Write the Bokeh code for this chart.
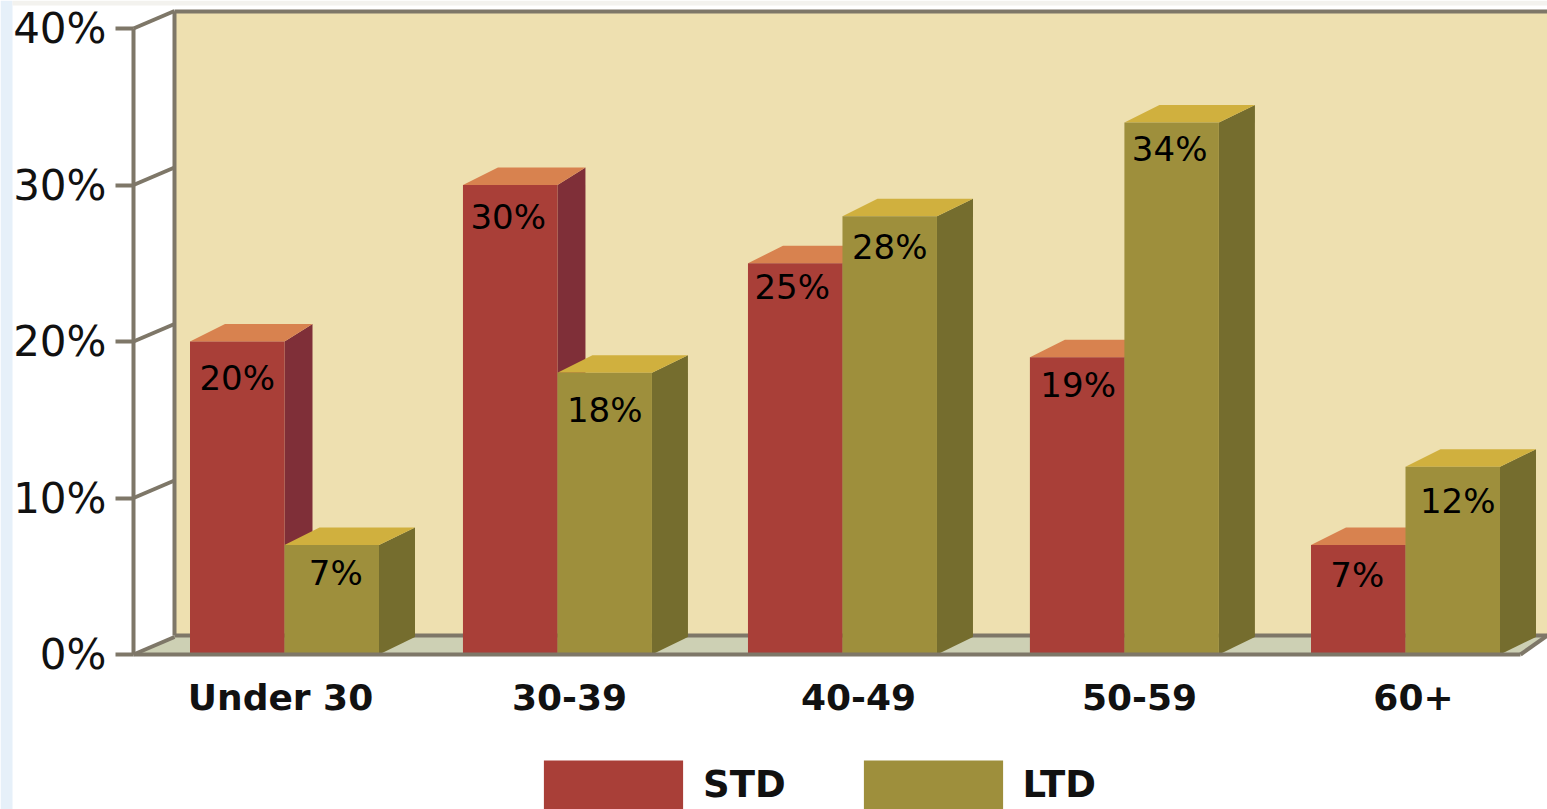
from bokeh.embed import file_html
from bokeh.resources import INLINE
from bokeh.plotting import figure
from bokeh.models import (ColumnDataSource, FixedTicker, LinearAxis, Legend, LegendItem,
                          Range1d)
from bokeh.core.properties import value

# Disability claims by age group, percent
age_groups = ["Under 30", "30-39", "40-49", "50-59", "60+"]
std_values = [20, 30, 25, 19, 7]
ltd_values = [7, 18, 28, 34, 12]
y_ticks = [0, 10, 20, 30, 40]

# Canvas geometry: pixels per unit on each scale and where the origin sits
W, H = 1547, 809
PX_PER_GROUP = 280.25
PX_PER_PCT = 15.65
ORIGIN_X, ORIGIN_Y = 284, 654


def gx(px):
    return (px - ORIGIN_X) / PX_PER_GROUP


def gy(px):
    return (ORIGIN_Y - px) / PX_PER_PCT


FONT = "DejaVu Sans"
BAR_W = 94.5 / PX_PER_GROUP
GROUP_NUDGE = [0, -0.026, -0.009, -0.003, 0]
LABEL_POS = [gx(v) for v in (280, 569, 858, 1139, 1413)]

# Placement of the percent labels relative to each bar's top centre, in pixels
STD_DROP = [36, 32, 24, 28, 30]
LTD_DROP = [28, 37, 31, 27, 34]
STD_SHIFT = [0, -2, -3, 1, -1]
LTD_SHIFT = [4, 0, 0, -2, 5]

# Depth of the extruded boxes, in scale units
DEPTH_Y = 17.5 / PX_PER_PCT
DEPTH_LEFT = 35 / PX_PER_GROUP
STD_DEPTH_RIGHT = 28 / PX_PER_GROUP
LTD_DEPTH_RIGHT = 36 / PX_PER_GROUP

AXIS = "#7e7768"

p = figure(width=W, height=H, output_backend="svg", toolbar_location=None,
           x_range=Range1d(gx(0), gx(W)), y_range=Range1d(gy(H), gy(0)),
           x_axis_type=None, y_axis_type=None,
           min_border=0, min_border_left=0, min_border_right=0, min_border_top=0,
           min_border_bottom=0, outline_line_color=None, background_fill_color="white",
           border_fill_color="white")
p.grid.visible = False

# Pale page edge
p.quad(left=gx(0), right=gx(12), bottom=gy(H), top=gy(0), fill_color="#e6f0f9", line_color=None)
p.quad(left=gx(12), right=gx(W), bottom=gy(5), top=gy(0), fill_color="#f3f2ee", line_color=None)

# Back wall and floor of the box
wall_l, wall_t, wall_b = gx(174), gy(11), gy(635)
p.quad(left=wall_l, right=gx(W), bottom=wall_b, top=wall_t, fill_color="#eee0b0", line_color=None)
p.patch([gx(133), wall_l, gx(W), gx(1520)], [0, wall_b, wall_b, 0],
        fill_color="#cdd0b4", line_color=None)
p.multi_line([[wall_l, wall_l], [wall_l, gx(W)], [wall_l, gx(W)], [gx(1520), gx(W)]],
             [[wall_b, wall_t], [wall_t, wall_t], [wall_b, wall_b], [0, wall_b]],
             line_color=AXIS, line_width=4)

# Receding tick lines on the left side wall
p.segment(x0=[gx(133)] * len(y_ticks), y0=y_ticks,
          x1=[wall_l] * len(y_ticks), y1=[t + DEPTH_Y for t in y_ticks],
          line_color=AXIS, line_width=4)

std_x = [i + n - BAR_W / 2 for i, n in enumerate(GROUP_NUDGE)]
ltd_x = [i + n + BAR_W / 2 for i, n in enumerate(GROUP_NUDGE)]


def box_faces(xc, v, right_depth):
    l, r = xc - BAR_W / 2, xc + BAR_W / 2
    top = ([l, l + DEPTH_LEFT, r + right_depth, r], [v, v + DEPTH_Y, v + DEPTH_Y, v])
    side = ([r, r + right_depth, r + right_depth, r], [0, DEPTH_Y, v + DEPTH_Y, v])
    return top, side


legend_items = []
for i in range(len(age_groups)):
    # Each group paints its red box first so the olive box overlaps it
    t, s = box_faces(std_x[i], std_values[i], STD_DEPTH_RIGHT)
    p.patch(*s, fill_color="#7f2f38", line_color=None)
    p.patch(*t, fill_color="#d8824f", line_color=None)
    r_std = p.vbar(x=[std_x[i]], width=BAR_W, bottom=0, top=[std_values[i]],
                   fill_color="#a93f38", line_color=None)
    t, s = box_faces(ltd_x[i], ltd_values[i], LTD_DEPTH_RIGHT)
    p.patch(*s, fill_color="#756d2e", line_color=None)
    p.patch(*t, fill_color="#d0b03e", line_color=None)
    r_ltd = p.vbar(x=[ltd_x[i]], width=BAR_W, bottom=0, top=[ltd_values[i]],
                   fill_color="#9e8f3c", line_color=None)
    if i == 0:
        legend_items = [LegendItem(label="STD", renderers=[r_std]),
                        LegendItem(label="LTD", renderers=[r_ltd])]

# Percent labels on the front faces
labels = ColumnDataSource(dict(
    x=std_x + ltd_x,
    y=std_values + ltd_values,
    text=[f"{v}%" for v in std_values + ltd_values],
    drop=STD_DROP + LTD_DROP,
    shift=STD_SHIFT + LTD_SHIFT,
))
p.text(x="x", y="y", text="text", x_offset="shift", y_offset="drop", source=labels,
       text_align="center", text_baseline="middle", text_color="#000000",
       text_font=value(FONT), text_font_size="34px")

# Value axis
y_axis = LinearAxis(ticker=FixedTicker(ticks=y_ticks), fixed_location=gx(133), bounds=(0, 40),
                    major_label_overrides={t: f"{t}%" for t in y_ticks})
y_axis.axis_line_color = AXIS
y_axis.axis_line_width = 4
y_axis.major_tick_line_color = AXIS
y_axis.major_tick_line_width = 4
y_axis.major_tick_out = 18
y_axis.major_tick_in = 0
y_axis.minor_tick_line_color = None
y_axis.major_label_standoff = 9
y_axis.major_label_text_font = FONT
y_axis.major_label_text_font_size = "42px"
y_axis.major_label_text_color = "#111111"
p.add_layout(y_axis, "left")

# Category axis
x_axis = LinearAxis(ticker=FixedTicker(ticks=LABEL_POS), fixed_location=0,
                    bounds=(gx(133), gx(1520)),
                    major_label_overrides=dict(zip(LABEL_POS, age_groups)))
x_axis.axis_line_color = AXIS
x_axis.axis_line_width = 4
x_axis.major_tick_line_color = None
x_axis.minor_tick_line_color = None
x_axis.major_tick_out = 0
x_axis.major_tick_in = 0
x_axis.major_label_standoff = 22
x_axis.major_label_text_font = FONT
x_axis.major_label_text_font_size = "36px"
x_axis.major_label_text_font_style = "bold"
x_axis.major_label_text_color = "#111111"
p.add_layout(x_axis, "below")

# Legend swatches are inset 10% per side by the glyph, so the boxes are sized up to compensate
legend = Legend(items=legend_items, location=(526, -6), orientation="horizontal",
                glyph_width=174, glyph_height=61, label_standoff=3, spacing=60,
                padding=0, margin=0, border_line_color=None, background_fill_alpha=0,
                label_text_font=FONT, label_text_font_size="37px", label_text_font_style="bold",
                label_text_color="#111111", label_height=61)
p.add_layout(legend)

open("out.html", "w").write(file_html(p, INLINE))
